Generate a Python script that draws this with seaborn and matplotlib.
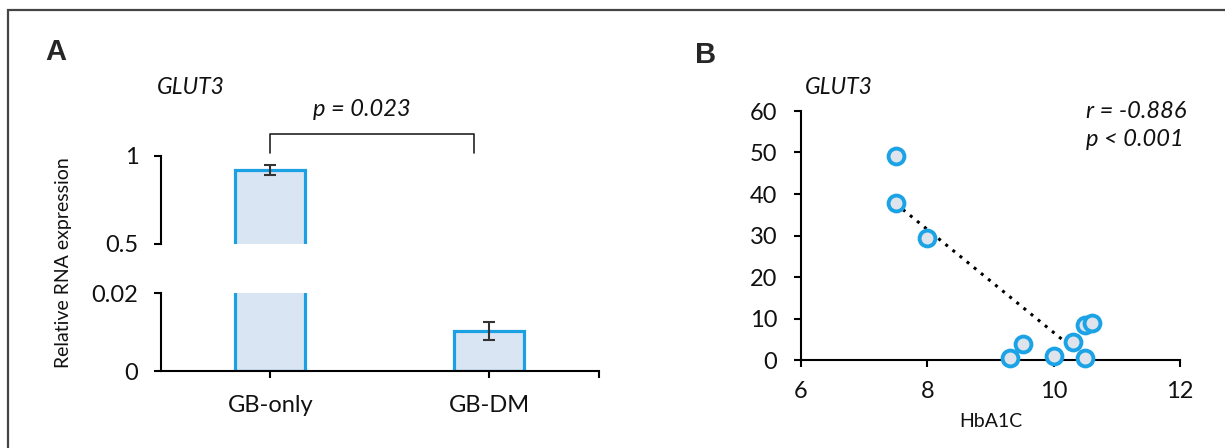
import numpy as np
import seaborn as sns
import matplotlib.pyplot as plt
from matplotlib.patches import Rectangle

# panel A data
groups = ['GB-only', 'GB-DM']
rel_expr = [0.919, 0.0103]
rel_err = [0.031, 0.0022]

# panel B data
hba1c = [7.51, 7.50, 8.00, 9.31, 9.51, 10.00, 10.31, 10.50, 10.50, 10.61]
glut3 = [49.2, 37.8, 29.3, 0.4, 3.9, 1.0, 4.4, 0.6, 8.4, 8.8]

sns.set_theme(style='white')
plt.rcParams['font.family'] = ['Lato', 'DejaVu Sans']

W, H = 1225, 448
fig = plt.figure(figsize=(W / 100, H / 100), dpi=100)

bar_fill = '#dae5f3'
bar_edge = '#1ca0e4'
pt_edge = '#1ca3e6'
pt_fill = '#dfe4ec'
txt = '#111111'


def px(x0, y0, x1, y1):
    # pixel box -> figure fraction rect
    return [x0 / W, 1 - y1 / H, (x1 - x0) / W, (y1 - y0) / H]


def style_axis(ax):
    for s in ['top', 'right']:
        ax.spines[s].set_visible(False)
    for s in ['left', 'bottom']:
        ax.spines[s].set_linewidth(1.5)
        ax.spines[s].set_color('black')
    ax.tick_params(direction='out', length=5, width=1.5, color='black',
                   labelsize=17, labelcolor=txt, left=True, bottom=True)


# outer frame (only top/left visible in the crop)
fig.patches.append(Rectangle((8 / W, -0.1), 1.2, 1 - 10 / H + 0.1,
                             transform=fig.transFigure, fill=False,
                             edgecolor='#444444', lw=1.6))

# ---- panel A: broken axis bar chart
ax_top = fig.add_axes(px(160.7, 155.7, 599, 244))
ax_bot = fig.add_axes(px(160.7, 293.3, 599, 371))

for ax in [ax_top, ax_bot]:
    sns.barplot(x=groups, y=rel_expr, ax=ax, width=0.32, color=bar_fill,
                edgecolor=bar_edge, linewidth=2.3, saturation=1)
    ax.errorbar(x=[0, 1], y=rel_expr, yerr=rel_err, fmt='none',
                ecolor='#333333', elinewidth=1.5, capsize=4, capthick=1.5)
    style_axis(ax)
    ax.set_xlim(-0.5, 1.5)
    ax.set_xlabel('')
    ax.set_ylabel('')

ax_top.set_ylim(0.5, 1.0)
ax_top.set_yticks([0.5, 1])
ax_top.set_yticklabels(['0.5', '1'])
ax_top.spines['bottom'].set_visible(False)
ax_top.tick_params(bottom=False, labelbottom=False, pad=11)

ax_bot.set_ylim(0, 0.02)
ax_bot.set_yticks([0, 0.02])
ax_bot.set_yticklabels(['0', '0.02'])
ax_bot.set_xticks([0, 1, 1.5])
ax_bot.set_xticklabels(groups + [''])
ax_bot.tick_params(axis='y', pad=11)
ax_bot.tick_params(axis='x', pad=12)

# significance bracket
ax_top.plot([0, 0, 0.93, 0.93], [1.015, 1.123, 1.123, 1.015], color='#222222',
            lw=1.2, clip_on=False)

fig.text(362 / W, 1 - 110 / H, 'p = 0.023', ha='center', va='center',
         fontsize=17, style='italic', color=txt)
fig.text(157 / W, 1 - 87 / H, 'GLUT3', ha='left', va='center',
         fontsize=16.5, style='italic', color=txt)
fig.text(45 / W, 1 - 52 / H, 'A', ha='left', va='center', fontsize=21,
         fontweight='bold', family=['Liberation Sans', 'DejaVu Sans'])
fig.text(63 / W, 1 - 263 / H, 'Relative RNA expression', ha='center',
         va='center', rotation=90, fontsize=14, color=txt)

# ---- panel B: scatter with linear trend
axb = fig.add_axes(px(801, 111, 1180, 360))
sns.regplot(x=hba1c, y=glut3, ax=axb, scatter=False, ci=None, truncate=True,
            line_kws=dict(color='black', lw=2.2, linestyle=(0, (1, 2))))
sns.scatterplot(x=hba1c, y=glut3, ax=axb, s=130, color=pt_fill,
                edgecolor=pt_edge, linewidth=2.8, clip_on=False, zorder=3)
style_axis(axb)
axb.set_xlim(6, 12)
axb.set_ylim(0, 60)
axb.set_xticks([6, 8, 10, 12])
axb.set_yticks(range(0, 61, 10))
axb.tick_params(axis='y', pad=12)
axb.tick_params(axis='x', pad=10)
axb.set_xlabel('HbA1C', fontsize=14, color=txt, labelpad=8)
axb.set_ylabel('')

fig.text(805 / W, 1 - 87 / H, 'GLUT3', ha='left', va='center',
         fontsize=16.5, style='italic', color=txt)
fig.text(1086 / W, 1 - 111 / H, 'r = -0.886', ha='left', va='center',
         fontsize=17, style='italic', color=txt)
fig.text(1086 / W, 1 - 139 / H, 'p < 0.001', ha='left', va='center',
         fontsize=17, style='italic', color=txt)
fig.text(695 / W, 1 - 55 / H, 'B', ha='left', va='center', fontsize=21,
         fontweight='bold', family=['Liberation Sans', 'DejaVu Sans'])

fig.savefig('out.png', dpi=100)
